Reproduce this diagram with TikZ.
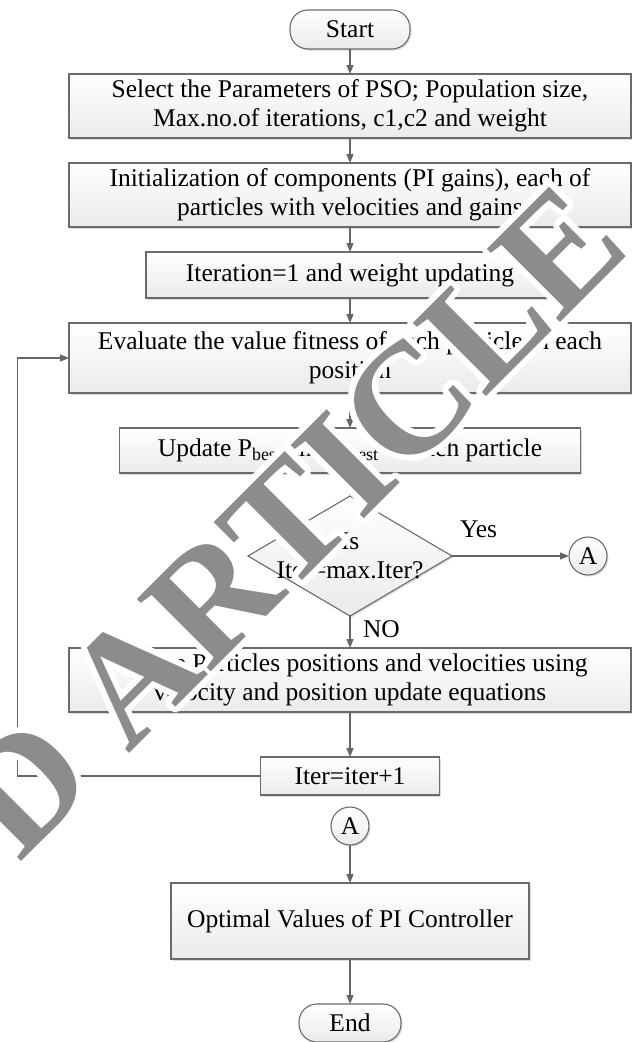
\documentclass[tikz,border=0pt]{standalone}
\usepackage{fontspec}
\setmainfont{Liberation Serif}
\usetikzlibrary{shapes,arrows,arrows.meta,positioning,shadows,calc}

\begin{document}
\begin{tikzpicture}[
    x=1pt, y=1pt,
    font=\fontsize{25.5}{29}\selectfont,
    box/.style={
        rectangle,
        draw=black!58,
        line width=1.1pt,
        top color=white,
        bottom color=black!8,
        drop shadow={shadow xshift=1.5pt, shadow yshift=-1.5pt, opacity=0.3, fill=black!45},
        inner sep=2pt,
        outer sep=0pt,
        align=center
    },
    term/.style={box, rounded corners=18pt, minimum height=38pt},
    decision/.style={box, diamond, inner sep=0pt},
    conn/.style={box, circle, inner sep=0pt, minimum size=38pt},
    lbl/.style={inner sep=0pt, outer sep=0pt},
    arrow/.style={draw=black!60, line width=1.2pt, -{Triangle[length=9pt,width=7pt]}},
    wm/.style={rotate=45, inner sep=0pt, font=\fontsize{158}{158}\selectfont\bfseries},
    node distance=25pt
]
    \useasboundingbox (0,0) rectangle (632,-1042);

    % Define nodes
    \node[term, minimum width=120pt, minimum height=39pt] (start) at (350,-29.5) {Start};
    \node[box, minimum width=562pt, minimum height=64pt, below=of start] (params)
        {Select the Parameters of PSO; Population size,\\Max.no.of iterations, c1,c2 and weight};
    \node[box, minimum width=562pt, minimum height=64pt, below=of params] (init)
        {Initialization of components (PI gains), each of\\particles with velocities and gains};
    \node[box, minimum width=408pt, minimum height=46pt, below=of init] (iterone)
        {Iteration=1 and weight updating};
    \node[box, minimum width=562pt, minimum height=70pt, below=of iterone] (fitness)
        {Evaluate the value fitness of each particle in each\\position};
    \node[box, minimum width=461pt, minimum height=45pt, below=35pt of fitness] (best)
        {Update P\textsubscript{best} and G\textsubscript{best} of each particle};
    \node[decision, minimum width=204pt, minimum height=120pt, below=23pt of best,
        label={[align=center]center:Is\\Iter=max.Iter?}] (check) {};
    \node[conn, right=117pt of check] (outA) {A};
    \node[box, minimum width=562pt, minimum height=64pt, below=32pt of check] (move)
        {Update Particles positions and velocities using\\velocity and position update equations};
    \node[box, minimum width=179pt, minimum height=38pt, below=45pt of move] (incr) {Iter=iter+1};
    \node[conn, below=12pt of incr] (inA) {A};
    \node[box, minimum width=358pt, minimum height=76pt, below=38pt of inA] (result)
        {Optimal Values of PI Controller};
    \node[term, minimum width=102pt, below=45pt of result] (stop) {End};

    % Labels
    \node[lbl, above right=18pt and 8pt of check.east] (yes) {Yes};
    \node[lbl, below right=5pt and 13pt of check.south] (no) {NO};

    % Straight arrows
    \draw[arrow] (start) -- (params);
    \draw[arrow] (params) -- (init);
    \draw[arrow] (init) -- (iterone);
    \draw[arrow] (iterone) -- (fitness);
    \draw[arrow] (fitness) -- (best);
    \draw[arrow] (best) -- (check);
    \draw[arrow] (check) -- (outA);
    \draw[arrow] (check) -- (move);
    \draw[arrow] (move) -- (incr);
    \draw[arrow] (inA) -- (result);
    \draw[arrow] (result) -- (stop);

    % Loop back
    \draw[arrow] (incr.west) -- ++(-243pt,0) |- (fitness.west);

    % Watermark
    \begin{scope}
        \clip (0,0) rectangle (632,-1042);
        \coordinate (wmpos) at (290,-520);
        \foreach \a in {0,20,...,340}
            \node[wm, text=white] (halo\a) at ($(wmpos)+(\a:6pt)$) {D ARTICLE};
        \node[wm, text=black!45] (wmark) at (wmpos) {D ARTICLE};
    \end{scope}
\end{tikzpicture}
\end{document}
